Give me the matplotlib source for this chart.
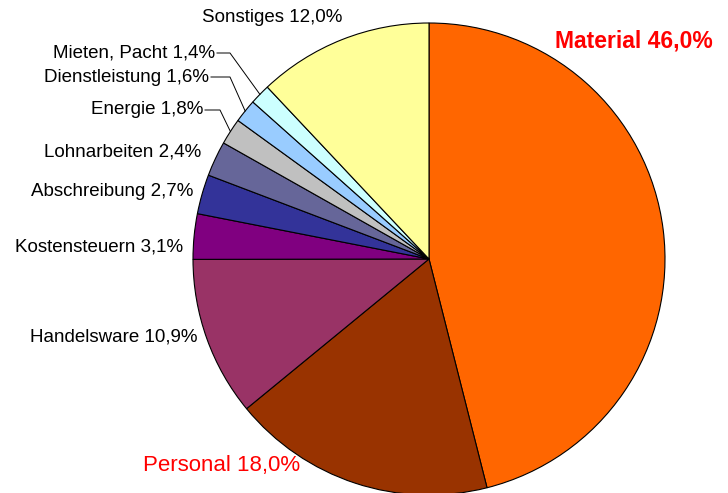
import numpy as np
import matplotlib
matplotlib.use("Agg")
import matplotlib.pyplot as plt

plt.rcParams['font.family'] = ['Liberation Sans', 'DejaVu Sans']

# Kostenstruktur (Anteile in %)
labels = ["Material", "Personal", "Handelsware", "Kostensteuern", "Abschreibung",
          "Lohnarbeiten", "Energie", "Dienstleistung", "Mieten, Pacht", "Sonstiges"]
values = [46.0, 18.0, 10.9, 3.1, 2.7, 2.4, 1.8, 1.6, 1.4, 12.0]
colors = ["#FF6600", "#993300", "#993366", "#800080", "#333399",
          "#666699", "#C0C0C0", "#99CCFF", "#CCFFFF", "#FFFF99"]

W, H = 728, 493
fig = plt.figure(figsize=(W / 100, H / 100), dpi=100)
ax = fig.add_axes([0, 0, 1, 1])
ax.set_xlim(0, W)
ax.set_ylim(0, H)
ax.set_aspect('equal')
ax.axis('off')

cx, cy, r = 429, H - 259, 236
wedges, _ = ax.pie(values, colors=colors, startangle=90, counterclock=False,
                   center=(cx, cy), radius=r,
                   wedgeprops=dict(edgecolor='black', linewidth=0.8))
ax.set_xlim(0, W)
ax.set_ylim(0, H)

def lab(i):
    return "%s %s%%" % (labels[i], ("%.1f" % values[i]).replace(".", ","))

fs = 13.5
# label positions in pixels (x, y from top), alignment
pos = {
    0: (555, 41, 'left'),
    1: (143, 466, 'left'),
    2: (197, 337, 'right'),
    3: (183, 247, 'right'),
    4: (193, 192, 'right'),
    5: (201, 152, 'right'),
    6: (203, 110, 'right'),
    7: (209, 77, 'right'),
    8: (215, 53, 'right'),
    9: (272, 17, 'center'),
}
for i, (x, y, ha) in pos.items():
    if i == 0:
        ax.text(x, H - y, lab(i), ha=ha, va='center', fontsize=16.5,
                fontweight='bold', color='#FF0000')
    elif i == 1:
        ax.text(x, H - y, lab(i), ha=ha, va='center', fontsize=16, color='#FF0000')
    else:
        ax.text(x, H - y, lab(i), ha=ha, va='center', fontsize=fs, color='black')

# leader lines for the narrow slices
elbow = {6: 220, 7: 230, 8: 230}
for i, ex in elbow.items():
    w = wedges[i]
    a = np.deg2rad((w.theta1 + w.theta2) / 2)
    px, py = cx + r * np.cos(a), cy + r * np.sin(a)
    tx, ty, _ = pos[i]
    ax.plot([tx + 2, ex, px], [H - ty, H - ty, py], color='black', lw=0.7)

fig.savefig("out.png", dpi=100)
